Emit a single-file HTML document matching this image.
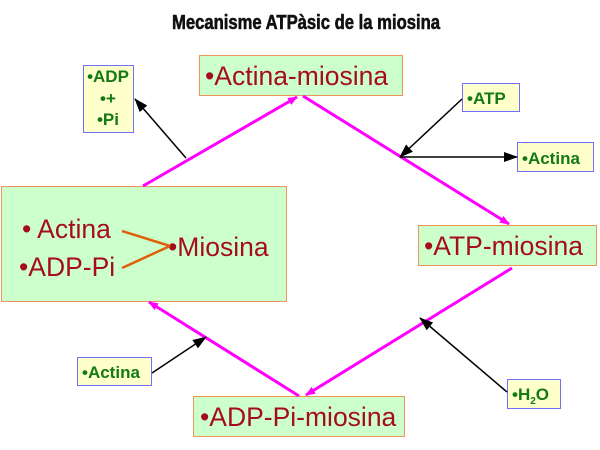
<!DOCTYPE html>
<html><head><meta charset="utf-8"><style>
html,body{margin:0;padding:0;background:#fff;}
svg{display:block;}
text{font-family:"Liberation Sans",sans-serif;}
.big{fill:#a50d1f;font-size:26.5px;}
.sm{fill:#137a13;font-size:17px;font-weight:bold;}
</style></head><body>
<svg width="600" height="450" viewBox="0 0 600 450" xmlns="http://www.w3.org/2000/svg">
<defs>
<marker id="m" markerWidth="10" markerHeight="8" refX="9" refY="4" orient="auto" markerUnits="userSpaceOnUse"><path d="M0,0 L10,4 L0,8 z" fill="#ff00ff"/></marker>
<marker id="k" markerWidth="14" markerHeight="10" refX="13" refY="5" orient="auto" markerUnits="userSpaceOnUse"><path d="M0,0 L14,5 L0,10 z" fill="#000"/></marker>
</defs>
<text x="306" y="29" text-anchor="middle" font-size="20" font-weight="bold" textLength="268" lengthAdjust="spacingAndGlyphs" fill="#111" stroke="#111" stroke-width="0.6">Mecanisme ATPàsic de la miosina</text>

<rect x="199.5" y="55.5" width="203" height="40" fill="#ccffcc" stroke="#f0955a"/>
<text x="205" y="85" class="big">•Actina-miosina</text>
<rect x="418.5" y="225.5" width="178" height="40" fill="#ccffcc" stroke="#f0955a"/>
<text x="424" y="255" class="big">•ATP-miosina</text>
<rect x="193.5" y="396.5" width="211" height="40" fill="#ccffcc" stroke="#f0955a"/>
<text x="200" y="426" class="big">•ADP-Pi-miosina</text>
<rect x="1.5" y="186.5" width="285" height="115" fill="#ccffcc" stroke="#f0955a"/>
<text x="22" y="238" class="big">• Actina</text>
<text x="19" y="276" class="big">•ADP-Pi</text>
<text x="168" y="256" class="big">•Miosina</text>
<line x1="122" y1="231" x2="170" y2="246" stroke="#e0600a" stroke-width="2.5"/>
<line x1="122" y1="268" x2="170" y2="246" stroke="#e0600a" stroke-width="2.5"/>

<rect x="83.5" y="65.5" width="50" height="67" fill="#ffffcc" stroke="#7070ff"/>
<text x="108" y="82" class="sm" text-anchor="middle" font-size="13">•ADP</text>
<text x="108" y="104" class="sm" text-anchor="middle" font-size="13">•+</text>
<text x="108" y="125" class="sm" text-anchor="middle" font-size="13">•Pi</text>
<rect x="462.5" y="83.5" width="57" height="28" fill="#ffffcc" stroke="#7070ff"/>
<text x="467" y="104" class="sm">•ATP</text>
<rect x="517.5" y="142.5" width="76" height="29" fill="#ffffcc" stroke="#7070ff"/>
<text x="522" y="164" class="sm">•Actina</text>
<rect x="77.5" y="357.5" width="74" height="28" fill="#ffffcc" stroke="#7070ff"/>
<text x="82" y="378" class="sm">•Actina</text>
<rect x="507.5" y="379.5" width="53" height="29" fill="#ffffcc" stroke="#7070ff"/>
<text x="512" y="400" class="sm">•H<tspan font-size="10" dy="4">2</tspan><tspan dy="-4">O</tspan></text>

<g stroke="#ff00ff" stroke-width="3" fill="none">
<line x1="143" y1="186" x2="297" y2="97" marker-end="url(#m)"/>
<line x1="303" y1="96" x2="509" y2="224" marker-end="url(#m)"/>
<line x1="512" y1="268" x2="306" y2="395" marker-end="url(#m)"/>
<line x1="299" y1="396" x2="149" y2="302" marker-end="url(#m)"/>
</g>
<g stroke="#000" stroke-width="1.5" fill="none">
<line x1="186" y1="158" x2="135" y2="99" marker-end="url(#k)"/>
<line x1="462" y1="99" x2="400" y2="157" marker-end="url(#k)"/>
<line x1="400" y1="157" x2="517" y2="157" marker-end="url(#k)"/>
<line x1="507" y1="392" x2="420" y2="318" marker-end="url(#k)"/>
<line x1="152" y1="373" x2="206" y2="337" marker-end="url(#k)"/>
</g>
</svg>
</body></html>
